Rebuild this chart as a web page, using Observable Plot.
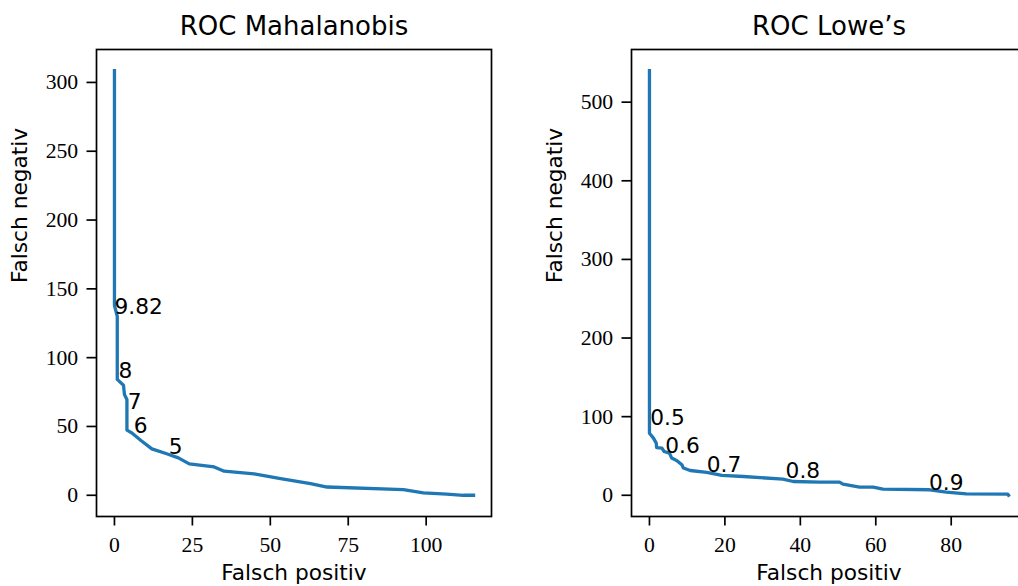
<!DOCTYPE html>
<html>
<head>
<meta charset="utf-8">
<script src="https://cdn.jsdelivr.net/npm/d3@7"></script>
<script src="https://cdn.jsdelivr.net/npm/@observablehq/plot@0.6"></script>
<style>
  html, body { margin: 0; padding: 0; background: #fff; overflow: hidden; }
  #fig { position: relative; width: 1018px; height: 586px; overflow: hidden; }
  #fig svg { position: absolute; top: 0; }
</style>
</head>
<body>
<div id="fig"></div>
<script>
// ROC curve, Mahalanobis distance threshold
const mahalFP = [0, 0, 0.9, 0.9, 2.9, 3.2, 4, 4, 5.6, 8.5, 12, 17, 20.5, 24, 32, 35.2, 44.8, 53.3, 62.9, 68.2, 92.7, 99.1, 106.6, 111.9, 115.2];
const mahalFN = [308.5, 138, 130, 84.2, 80, 73.3, 69.6, 47.3, 45.3, 39.8, 33.7, 30, 27.2, 22.8, 20.6, 17.5, 15.5, 12.1, 8.5, 6, 4.1, 1.8, 0.8, 0, 0];
const mahalLabels = ["9.82", "8", "7", "6", "5"];
const mahalLabelFP = [0, 1.3, 4.3, 6.2, 17.4];
const mahalLabelFN = [132, 85, 63, 45.5, 30.3];
const mahalXTicks = [0, 25, 50, 75, 100];
const mahalYTicks = [0, 50, 100, 150, 200, 250, 300];

// ROC curve, Lowe's ratio threshold
const loweFP = [0, 0, 1.06, 1.8, 1.9, 3.3, 3.9, 5.3, 5.9, 7.2, 8.6, 9, 10.8, 15.2, 19.2, 24.9, 35.4, 38.1, 45.2, 50.4, 51.3, 55.7, 59.3, 61.9, 74.3, 78.7, 84, 95, 95.2];
const loweFN = [540, 79, 72.7, 66.3, 60.7, 60, 55.7, 53.6, 47.3, 44.2, 38.8, 34.6, 31.5, 29, 25.2, 23.9, 20.5, 17.5, 16.8, 16.8, 14.2, 10.4, 10.4, 7.9, 7, 4.1, 1.9, 1.5, 0];
const loweLabels = ["0.5", "0.6", "0.7", "0.8", "0.9"];
const loweLabelFP = [0.2, 4.2, 15.2, 36.1, 74.1];
const loweLabelFN = [90, 54, 30, 22.6, 7];
const loweXTicks = [0, 20, 40, 60, 80];
const loweYTicks = [0, 100, 200, 300, 400, 500];

const BLUE = "#1f77b4";
const FS = 21.7;

function pad(lo, hi) {
  const m = (hi - lo) * 0.05;
  return [lo - m, hi + m];
}

function rocPanel({fp, fn, labels, lfp, lfn, xTicks, yTicks, title, left, width, marginLeft, marginRight}) {
  const pts = fp.map((x, i) => ({x, y: fn[i]}));
  const ann = labels.map((t, i) => ({t, x: lfp[i], y: lfn[i]}));
  const svg = Plot.plot({
    width,
    height: 586,
    marginLeft,
    marginRight,
    marginTop: 49,
    marginBottom: 70,
    style: {fontFamily: "DejaVu Sans", fontSize: FS + "px", background: "transparent", color: "black", overflow: "visible"},
    x: {domain: pad(d3.min(fp), d3.max(fp))},
    y: {domain: pad(d3.min(fn), d3.max(fn))},
    marks: [
      Plot.line(pts, {x: "x", y: "y", stroke: BLUE, strokeWidth: 3.3, strokeLinejoin: "round", strokeLinecap: "square"}),
      Plot.text(ann, {x: "x", y: "y", text: "t", textAnchor: "start", lineAnchor: "bottom", fontSize: FS, fill: "black"}),
      Plot.frame({stroke: "black", strokeWidth: 1.7}),
      Plot.axisX(xTicks, {tickSize: 9.5, tickPadding: 10.5, strokeWidth: 1.7, fontFamily: "Liberation Serif", fontSize: FS, label: null}),
      Plot.axisY(yTicks, {tickSize: 9.5, tickPadding: 8.8, strokeWidth: 1.7, fontFamily: "Liberation Serif", fontSize: FS, label: null}),
      Plot.text([title], {frameAnchor: "top", dy: -14.7, lineAnchor: "bottom", fontSize: 26}),
      Plot.text(["Falsch positiv"], {frameAnchor: "bottom", dy: 63, lineAnchor: "bottom", fontSize: FS}),
      Plot.text(["Falsch negativ"], {frameAnchor: "left", dx: -69.3, rotate: -90, lineAnchor: "bottom", fontSize: FS})
    ]
  });
  svg.style.left = left + "px";
  document.getElementById("fig").appendChild(svg);
}

rocPanel({
  fp: mahalFP, fn: mahalFN, labels: mahalLabels, lfp: mahalLabelFP, lfn: mahalLabelFN,
  xTicks: mahalXTicks, yTicks: mahalYTicks, title: "ROC Mahalanobis",
  left: 0, width: 509, marginLeft: 96, marginRight: 18
});

rocPanel({
  fp: loweFP, fn: loweFN, labels: loweLabels, lfp: loweLabelFP, lfn: loweLabelFN,
  xTicks: loweXTicks, yTicks: loweYTicks, title: "ROC Lowe\u2019s",
  left: 509, width: 535, marginLeft: 122, marginRight: 18
});
</script>
</body>
</html>
